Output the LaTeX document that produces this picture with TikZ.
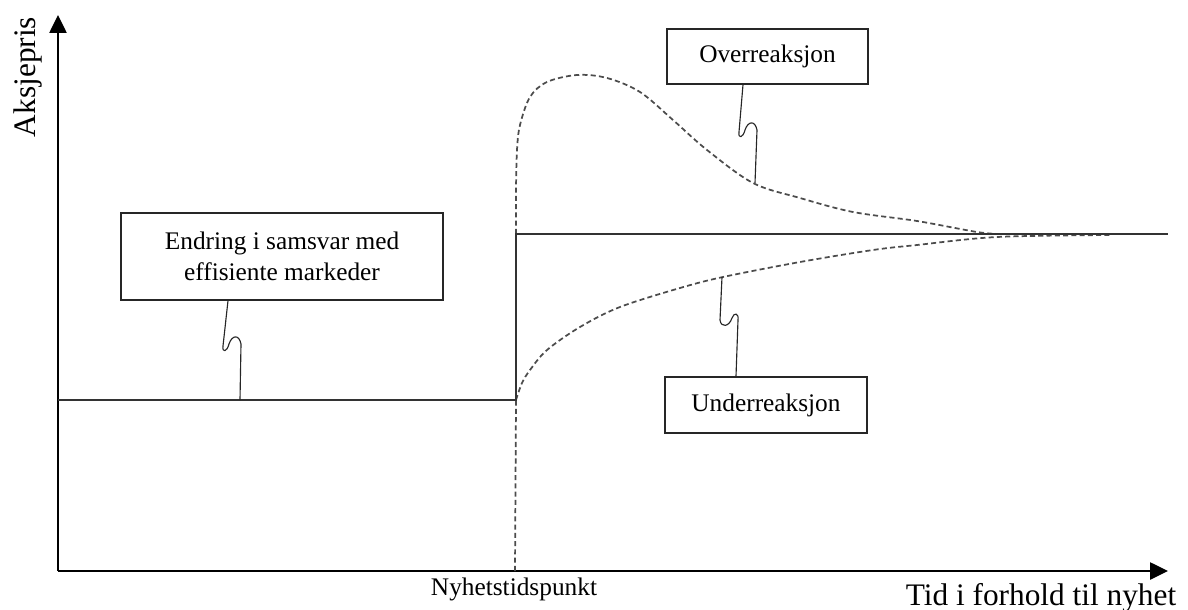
\documentclass[tikz,border=0pt]{standalone}
\usepackage{fontspec}
\setmainfont{Liberation Serif}
\usetikzlibrary{arrows.meta}
\begin{document}
\begin{tikzpicture}[x=0.75pt,y=-0.75pt,
  ln/.style={line width=1.05pt, draw=black!80},
  dsh/.style={line width=1.3pt, draw=black!70, dash pattern=on 3.8pt off 2.4pt},
  box/.style={draw=black!85, line width=1.05pt, fill=white, inner sep=0pt, font=\fontsize{19}{23.25}\selectfont, align=center},
  zig/.style={line width=0.85pt, draw=black!85, line join=round},
  axis/.style={line width=1.1pt, draw=black, -{Triangle[length=13.5pt,width=13pt]}},
  lbl/.style={font=\fontsize{19}{23}\selectfont, inner sep=0pt},
  biglbl/.style={font=\fontsize{23.5}{28}\selectfont, inner sep=0pt}]
\useasboundingbox (0,0) rectangle (1188,610);
% axes
\coordinate (O) at (58,571);
\coordinate (ytip) at (58,15);
\coordinate (xtip) at (1168,571);
\draw[axis] (O) -- (ytip);
\draw[axis] (O) -- (xtip);
\node[biglbl, rotate=90, anchor=base] (ylab) at (35,77) {Aksjepris};
\node[biglbl, anchor=base] (xlab) at (1041,605) {Tid i forhold til nyhet};
\node[lbl, anchor=base] (nyhet) at (514,595) {Nyhetstidspunkt};
% price path
\coordinate (B0) at (58,400);
\coordinate (S1) at (516,400);
\coordinate (S2) at (516,234);
\coordinate (L) at (1168,234);
\coordinate (N) at (515,571);
\draw[dsh] (N) -- (S1);
% overreaction
\draw[dsh] plot[smooth, tension=0.55] coordinates {(516,234) (516,190) (517,150) (520,125) (530,97) (547,82) (577,75) (607,78) (640,92) (673,120) (707,150) (753,183) (800,198) (853,212) (917,221) (977,232) (1000,234)};
% underreaction
\draw[dsh] plot[smooth, tension=0.55] coordinates {(516,400) (522,383) (530,370) (547,350) (580,327) (620,307) (680,288) (723,277) (800,262) (873,250) (917,245) (997,237) (1110,235)};
\draw[ln] (B0) -- (S1) -- (S2) -- (L);
% boxes
\node[box, minimum width=241.5pt, minimum height=65.25pt] (endr) at (282,256.5) {Endring i samsvar med\\effisiente markeder};
\node[box, minimum width=150.75pt, minimum height=41.25pt] (over) at (767.5,56.5) {Overreaksjon};
\node[box, minimum width=151.5pt, minimum height=42pt] (under) at (766,405) {Underreaksjon};
% callout squiggles
\coordinate (eT) at (240,400);
\coordinate (oT) at (755,183);
\coordinate (uT) at (722,277);
\draw[zig] (endr.south -| 228,0) -- (223,346) .. controls (222,353) and (227,352) .. (229,344) .. controls (232,335) and (239,334) .. (241,344) -- (eT);
\draw[zig] (over.south -| 743,0) -- (739,132) .. controls (738,139) and (743,138) .. (745,130) .. controls (748,121) and (755,120) .. (757,130) -- (oT);
\draw[zig] (under.north -| 736,0) -- (738,320) .. controls (739,313) and (734,312) .. (732,318) .. controls (729,327) and (721,328) .. (720,320) -- (uT);
\end{tikzpicture}
\end{document}
